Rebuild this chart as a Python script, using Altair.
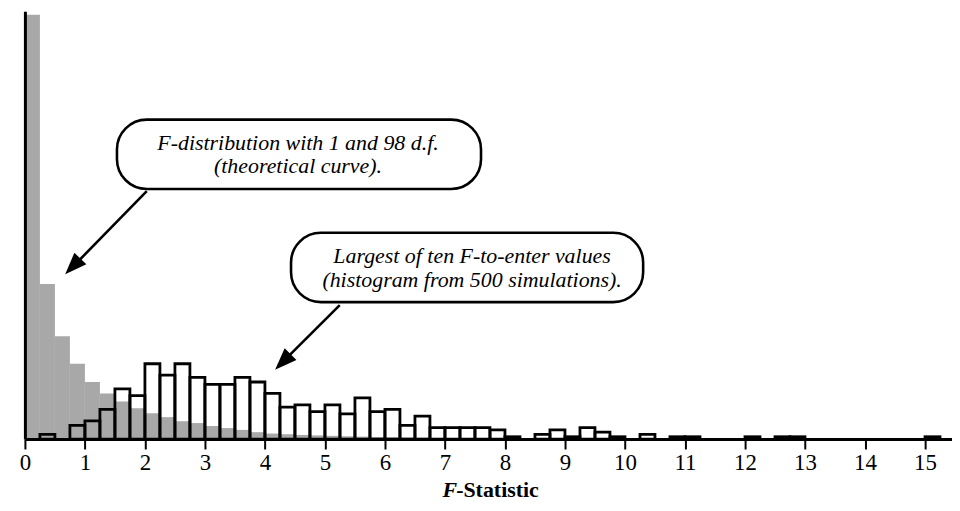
import altair as alt
import pandas as pd

# ---- data (bin width 0.25) ----
gray_start = [0.0, 0.25, 0.5, 0.75, 1.0, 1.25, 1.5, 1.75, 2.0, 2.25, 2.5, 2.75,
              3.0, 3.25, 3.5, 3.75, 4.0, 4.25, 4.5, 4.75, 5.0, 5.25, 5.5, 5.75,
              6.0, 6.25, 6.5, 6.75, 7.0, 7.25, 7.5, 7.75, 8.0]
gray_count = [186, 68, 45, 33, 25, 20, 16.5, 13.5, 11.3, 9.6, 7.8, 7.0,
              5.7, 4.8, 4.0, 3.0, 2.4, 2.1, 1.8, 1.6, 1.4, 1.2, 1.05, 0.9,
              0.8, 0.7, 0.6, 0.5, 0.45, 0.4, 0.35, 0.3, 0.25]

sim_start = [0.25, 0.75, 1.0, 1.25, 1.5, 1.75, 2.0, 2.25, 2.5, 2.75, 3.0, 3.25,
             3.5, 3.75, 4.0, 4.25, 4.5, 4.75, 5.0, 5.25, 5.5, 5.75, 6.0, 6.25,
             6.5, 6.75, 7.0, 7.25, 7.5, 7.75, 8.0, 8.5, 8.75, 9.0, 9.25, 9.5,
             9.75, 10.25, 10.75, 11.0, 12.0, 12.5, 12.75, 15.0]
sim_count = [2, 6, 8, 13, 22, 19, 33, 28, 33, 27, 24, 24,
             27, 25, 20, 14, 15, 12, 15, 11, 18, 12, 13, 6,
             10, 5, 5, 5, 5, 4, 1, 2, 4, 1, 5, 3,
             1, 2, 1, 1, 1, 1, 1, 1]

tick_values = list(range(0, 16))

box_x = [1.534, 4.435]
box_x2 = [7.601, 10.303]
box_y = [140.0, 90.4]
box_y2 = [109.6, 60.0]

label_text = ["F-distribution with 1 and 98 d.f.", "(theoretical curve).",
              "Largest of ten F-to-enter values", "(histogram from 500 simulations)."]
label_x = [4.551, 4.551, 7.452, 7.452]
label_y = [126.8, 116.8, 77.0, 66.6]

arrow_x = [2.031, 5.247]
arrow_y = [108.7, 58.7]
arrow_x2 = [0.787, 4.285]
arrow_y2 = [75.2, 33.5]
tip_x = [0.671, 4.169]
tip_y = [72.2, 30.4]
tip_angle = [224, 225]

XDOM = [0, 15.45]
YDOM = [0, 187.5]
FONT = "Liberation Serif"

gray_df = pd.DataFrame({"b0": gray_start, "n": gray_count})
sim_df = pd.DataFrame({"b0": sim_start, "n": sim_count})
box_df = pd.DataFrame({"x": box_x, "x2": box_x2, "y": box_y, "y2": box_y2})
lab_df = pd.DataFrame({"t": label_text, "x": label_x, "y": label_y})
arr_df = pd.DataFrame({"x": arrow_x, "y": arrow_y, "x2": arrow_x2, "y2": arrow_y2})
tip_df = pd.DataFrame({"x": tip_x, "y": tip_y, "a": tip_angle})

XAXIS = alt.Axis(values=tick_values, format="d", grid=False, domainColor="black",
                 domainWidth=3, tickColor="black", tickWidth=2, tickSize=10,
                 labelFont=FONT, labelFontSize=23, labelColor="black",
                 labelPadding=3, labelFlush=False, zindex=2, title=None)
YAXIS = alt.Axis(labels=False, ticks=False, grid=False, domainColor="black",
                 domainWidth=3, zindex=2, minExtent=0, maxExtent=0, title=None)


def X(f):
    return alt.X(f, scale=alt.Scale(domain=XDOM, nice=False, zero=False), axis=XAXIS, title=None)


def Y(f):
    return alt.Y(f, scale=alt.Scale(domain=YDOM, nice=False, zero=False), axis=YAXIS, title=None)


gray = alt.Chart(gray_df).transform_calculate(b1="datum.b0 + 0.25").mark_rect(
    color="#a8a8a8", strokeWidth=0
).encode(x=X("b0:Q"), x2="b1:Q", y=Y("n:Q"), y2=alt.datum(0))

sim = alt.Chart(sim_df).transform_calculate(b1="datum.b0 + 0.25").mark_rect(
    fillOpacity=0, stroke="black", strokeWidth=2.8
).encode(x=X("b0:Q"), x2="b1:Q", y=Y("n:Q"), y2=alt.datum(0))

arrows = alt.Chart(arr_df).mark_rule(color="black", strokeWidth=2.6).encode(
    x=X("x:Q"), y=Y("y:Q"), x2="x2:Q", y2="y2:Q")

tips = alt.Chart(tip_df).mark_point(
    shape="M0,0L-0.38,1L0.38,1Z", filled=True, color="black", opacity=1,
    size=1936, strokeWidth=0
).encode(x=X("x:Q"), y=Y("y:Q"), angle=alt.Angle("a:Q", scale=None))

boxes = alt.Chart(box_df).mark_rect(
    fill="white", stroke="black", strokeWidth=2.6, cornerRadius=30
).encode(x=X("x:Q"), x2="x2:Q", y=Y("y:Q"), y2="y2:Q")

labels = alt.Chart(lab_df).mark_text(
    font=FONT, fontSize=22, fontStyle="italic", color="black",
    align="center", baseline="alphabetic"
).encode(x=X("x:Q"), y=Y("y:Q"), text="t:N")

title_df = pd.DataFrame({"x": [7.187], "y": [-25.3]})
title_f = alt.Chart(title_df).mark_text(
    text="F", font=FONT, fontSize=22, fontWeight="bold", fontStyle="italic",
    color="black", align="right", baseline="alphabetic", dx=1
).encode(x=X("x:Q"), y=Y("y:Q"))
title_rest = alt.Chart(title_df).mark_text(
    text="-Statistic", font=FONT, fontSize=22, fontWeight="bold",
    color="black", align="left", baseline="alphabetic"
).encode(x=X("x:Q"), y=Y("y:Q"))

chart = alt.layer(gray, sim, arrows, tips, boxes, labels, title_f, title_rest).properties(
    width=932, height=430,
    padding={"left": 17, "top": 2, "right": 0, "bottom": 63},
    autosize=alt.AutoSizeParams(type="none"),
    background="white",
).configure_view(stroke=None)

chart.save("out.html", embed_options={"renderer": "svg", "actions": False})
